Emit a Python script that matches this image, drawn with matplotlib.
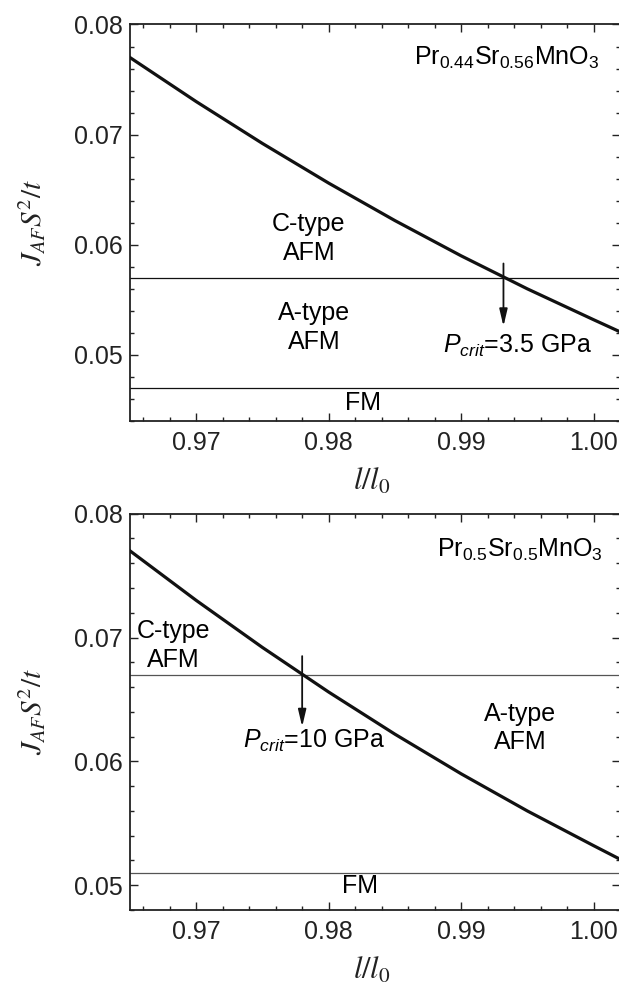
import matplotlib
matplotlib.use("Agg")
import matplotlib.pyplot as plt
from matplotlib.ticker import MultipleLocator, FormatStrFormatter

plt.rcParams['font.family'] = ['Liberation Sans', 'DejaVu Sans']
plt.rcParams['mathtext.fontset'] = 'custom'
plt.rcParams['mathtext.rm'] = 'Liberation Sans'
plt.rcParams['mathtext.it'] = 'Liberation Sans:italic'
plt.rcParams['mathtext.bf'] = 'Liberation Sans:bold'

# ---- data ----
l_ratio = [0.965, 0.970, 0.975, 0.980, 0.985, 0.990, 0.995, 1.000, 1.002]
j_af = [0.0770, 0.0730, 0.0692, 0.0656, 0.0622, 0.0590, 0.0560, 0.0532, 0.0521]

panels = [
    dict(formula=r'Pr$_{0.44}$Sr$_{0.56}$MnO$_3$', ca_line=0.057, fm_line=0.047,
         p_crit_x=0.9932, p_crit_label=r'$P_{crit}$=3.5 GPa', ylim=(0.044, 0.08)),
    dict(formula=r'Pr$_{0.5}$Sr$_{0.5}$MnO$_3$', ca_line=0.067, fm_line=0.051,
         p_crit_x=0.978, p_crit_label=r'$P_{crit}$=10 GPa', ylim=(0.048, 0.08)),
]
xticks = [0.97, 0.98, 0.99, 1.00]
yticks = [0.05, 0.06, 0.07, 0.08]

W, H = 619, 988
fig = plt.figure(figsize=(W / 100, H / 100), dpi=100)

def fx(px):
    return px / W

def fy(py):
    return 1 - py / H

ax_px = [(130, 620, 24.5, 421), (130, 620, 513.7, 910)]

# text placements (data coords)
texts = [
    dict(c=(0.9785, 0.0606), a=(0.9789, 0.0525), fm=(0.9826, 0.0456),
         pc=(0.9886, 0.0502), arrow=(0.0583, 0.0526), form=(1.0004, 0.07634)),
    dict(c=(0.9683, 0.06935), a=(0.99446, 0.0627), fm=(0.9824, 0.0499),
         pc=(0.9735, 0.0611), arrow=(0.0685, 0.0628), form=(1.0007, 0.0765)),
]
line_colors = ['#111111', '#555555']
FS = 18

for i, (p, t) in enumerate(zip(panels, texts)):
    l, r, top, bot = ax_px[i]
    ax = fig.add_axes([fx(l), fy(bot), fx(r - l), (bot - top) / H])
    ax.set_xlim(0.965, 1.002)
    ax.set_ylim(*p['ylim'])
    ax.plot(l_ratio, j_af, color='#111111', lw=2.3, solid_joinstyle='round', zorder=3)
    ax.axhline(p['ca_line'], color=line_colors[i], lw=0.9, zorder=2)
    ax.axhline(p['fm_line'], color=line_colors[i], lw=0.9, zorder=2)

    ax.annotate('', xy=(p['p_crit_x'], t['arrow'][1]), xytext=(p['p_crit_x'], t['arrow'][0]),
                arrowprops=dict(arrowstyle='-|>,head_length=0.85,head_width=0.2',
                                color='#111111', lw=1.3, mutation_scale=12,
                                shrinkA=0, shrinkB=0), zorder=4)

    ax.text(*t['c'], 'C-type\nAFM', ha='center', va='center', fontsize=FS, linespacing=1.25)
    ax.text(*t['a'], 'A-type\nAFM', ha='center', va='center', fontsize=FS, linespacing=1.25)
    ax.text(*t['fm'], 'FM', ha='center', va='center', fontsize=FS)
    ax.text(*t['pc'], p['p_crit_label'], ha='left', va='baseline', fontsize=FS)
    ax.text(*t['form'], p['formula'], ha='right', va='baseline', fontsize=FS)

    ax.set_xticks(xticks)
    ax.set_yticks(yticks)
    ax.xaxis.set_minor_locator(MultipleLocator(0.002))
    ax.yaxis.set_minor_locator(MultipleLocator(0.002))
    ax.xaxis.set_major_formatter(FormatStrFormatter('%.2f'))
    ax.yaxis.set_major_formatter(FormatStrFormatter('%.2f'))
    ax.tick_params(which='both', direction='in', top=True, right=True, width=1.0,
                   colors='#222222', labelcolor='#222222')
    ax.tick_params(which='major', length=5.5, labelsize=FS)
    ax.tick_params(which='minor', length=3.2)
    ax.tick_params(axis='x', which='major', pad=7)
    ax.tick_params(axis='y', which='major', pad=5)
    for s in ax.spines.values():
        s.set_linewidth(1.3)
        s.set_color('#222222')

    # axis labels
    fig.text(fx(32), fy((top + bot) / 2), r'$J_{AF}S^2/t$', rotation=90, ha='center',
             va='center', fontsize=21, math_fontfamily='stix', color='#222222')
    fig.text(fx(372), fy(bot + 69), r'$l/l_0$', ha='center', va='baseline',
             fontsize=22, math_fontfamily='stix', color='#222222')

fig.savefig('out.png', dpi=100)
